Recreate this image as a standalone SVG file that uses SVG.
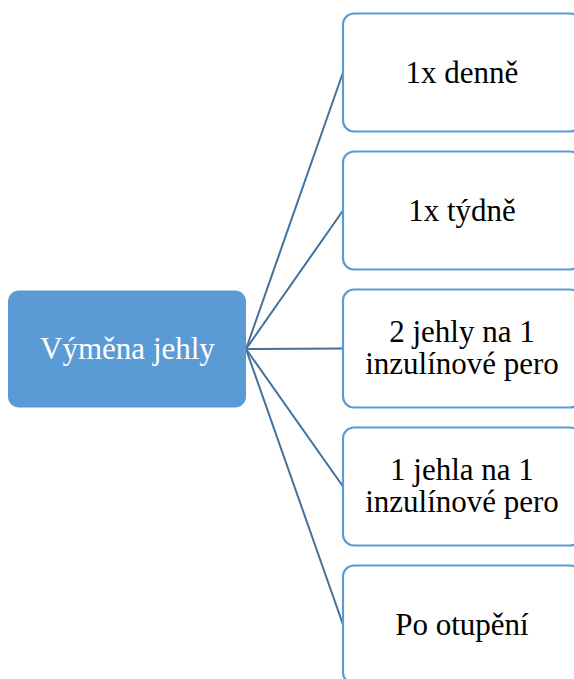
<svg xmlns="http://www.w3.org/2000/svg" width="574" height="679" viewBox="0 0 574 679">
  <style>
    .root rect { fill: #5B9BD5; }
    .root text { fill: #ffffff; }
    .leaf rect { fill: #ffffff; stroke: #5B9BD5; stroke-width: 2.2; }
    .leaf text { fill: #000000; }
    text { font-family: 'Liberation Serif', 'Times New Roman', serif; font-size: 31px; text-anchor: middle; }
    .links line { stroke: #41719C; stroke-width: 2; }
  </style>
  <rect width="574" height="679" fill="#ffffff"/>

  <!-- fan of connectors from the root to each option -->
  <g class="links">
    <line x1="246" y1="349" x2="343" y2="72.5"/>
    <line x1="246" y1="349" x2="343" y2="210.5"/>
    <line x1="246" y1="349" x2="343" y2="348.5"/>
    <line x1="246" y1="349" x2="343" y2="486.5"/>
    <line x1="246" y1="349" x2="343" y2="624.5"/>
  </g>

  <g id="vymena-jehly" class="root">
    <rect x="8" y="290.5" width="238" height="117" rx="11" ry="11"/>
    <text x="127.5" y="359">Výměna jehly</text>
  </g>

  <g id="denne" class="leaf">
    <rect x="343" y="13.5" width="238" height="118" rx="11" ry="11"/>
    <text x="462" y="83">1x denně</text>
  </g>

  <g id="tydne" class="leaf">
    <rect x="343" y="151.5" width="238" height="118" rx="11" ry="11"/>
    <text x="462" y="221">1x týdně</text>
  </g>

  <g id="dve-jehly" class="leaf">
    <rect x="343" y="289.5" width="238" height="118" rx="11" ry="11"/>
    <text x="462" y="341.5">2 jehly na 1</text>
    <text x="462" y="373.5">inzulínové pero</text>
  </g>

  <g id="jedna-jehla" class="leaf">
    <rect x="343" y="427.5" width="238" height="118" rx="11" ry="11"/>
    <text x="462" y="479.5">1 jehla na 1</text>
    <text x="462" y="511.5">inzulínové pero</text>
  </g>

  <g id="po-otupeni" class="leaf">
    <rect x="343" y="565.5" width="238" height="118" rx="11" ry="11"/>
    <text x="462" y="635">Po otupění</text>
  </g>
</svg>
